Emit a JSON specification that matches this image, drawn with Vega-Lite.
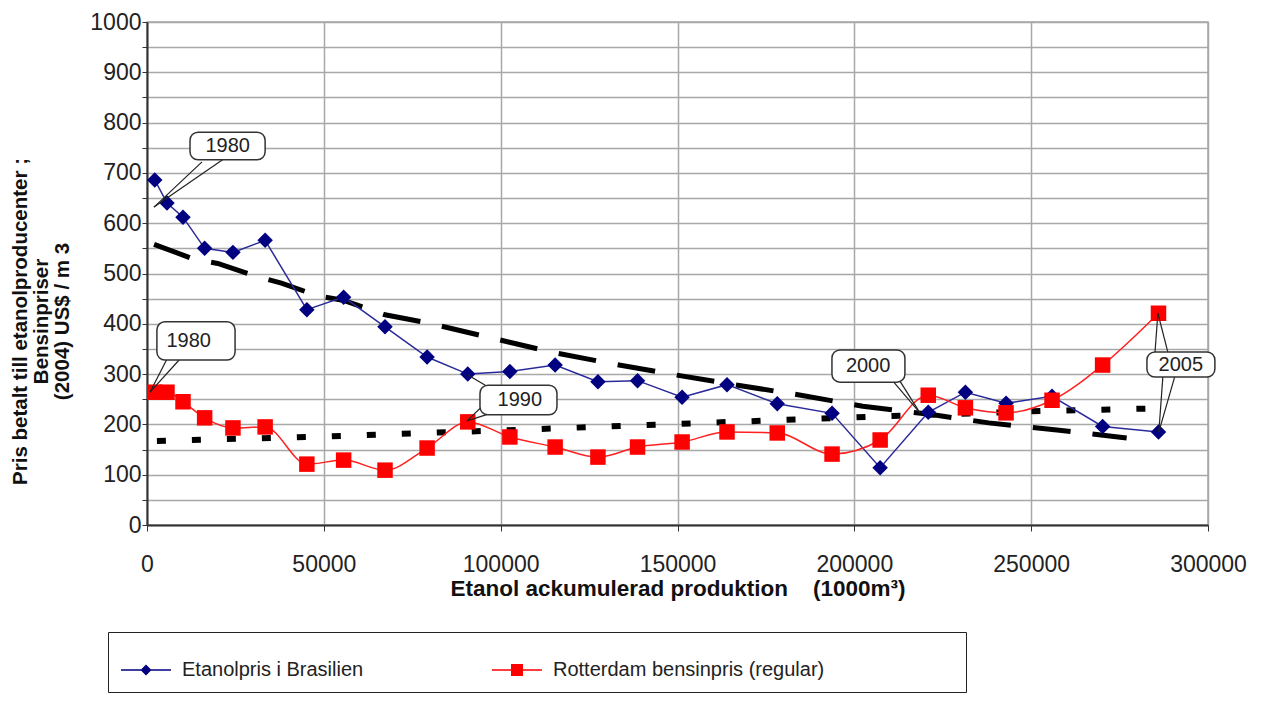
{
  "$schema": "https://vega.github.io/schema/vega-lite/v6.json",
  "width": 1061,
  "height": 503,
  "autosize": {"type": "none"},
  "padding": {"left": 147, "top": 22, "right": 62, "bottom": 177},
  "background": "white",
  "config": {
    "view": {"stroke": "#a8a8a8", "strokeWidth": 1.5},
    "font": "Liberation Sans",
    "axis": {"labelFont": "Liberation Sans", "titleFont": "Liberation Sans"},
    "legend": {"labelFont": "Liberation Sans", "titleFont": "Liberation Sans"}
  },
  "datasets": {
    "series": [
      {"series": "Etanolpris i Brasilien", "x": 2200, "y": 686},
      {"series": "Etanolpris i Brasilien", "x": 5650, "y": 640},
      {"series": "Etanolpris i Brasilien", "x": 10180, "y": 612},
      {"series": "Etanolpris i Brasilien", "x": 16300, "y": 550},
      {"series": "Etanolpris i Brasilien", "x": 24300, "y": 542},
      {"series": "Etanolpris i Brasilien", "x": 33400, "y": 566},
      {"series": "Etanolpris i Brasilien", "x": 45200, "y": 428},
      {"series": "Etanolpris i Brasilien", "x": 55600, "y": 453},
      {"series": "Etanolpris i Brasilien", "x": 67300, "y": 394},
      {"series": "Etanolpris i Brasilien", "x": 79200, "y": 334},
      {"series": "Etanolpris i Brasilien", "x": 90700, "y": 300},
      {"series": "Etanolpris i Brasilien", "x": 102600, "y": 305},
      {"series": "Etanolpris i Brasilien", "x": 115400, "y": 318},
      {"series": "Etanolpris i Brasilien", "x": 127500, "y": 285},
      {"series": "Etanolpris i Brasilien", "x": 138700, "y": 287},
      {"series": "Etanolpris i Brasilien", "x": 151300, "y": 254},
      {"series": "Etanolpris i Brasilien", "x": 164000, "y": 279},
      {"series": "Etanolpris i Brasilien", "x": 178200, "y": 241},
      {"series": "Etanolpris i Brasilien", "x": 193700, "y": 222},
      {"series": "Etanolpris i Brasilien", "x": 207300, "y": 114},
      {"series": "Etanolpris i Brasilien", "x": 220900, "y": 224},
      {"series": "Etanolpris i Brasilien", "x": 231400, "y": 264},
      {"series": "Etanolpris i Brasilien", "x": 242900, "y": 242},
      {"series": "Etanolpris i Brasilien", "x": 255900, "y": 256},
      {"series": "Etanolpris i Brasilien", "x": 270200, "y": 196},
      {"series": "Etanolpris i Brasilien", "x": 286000, "y": 185},
      {"series": "Rotterdam bensinpris (regular)", "x": 2200, "y": 264},
      {"series": "Rotterdam bensinpris (regular)", "x": 5650, "y": 264},
      {"series": "Rotterdam bensinpris (regular)", "x": 10180, "y": 245},
      {"series": "Rotterdam bensinpris (regular)", "x": 16300, "y": 213},
      {"series": "Rotterdam bensinpris (regular)", "x": 24300, "y": 193},
      {"series": "Rotterdam bensinpris (regular)", "x": 33400, "y": 195},
      {"series": "Rotterdam bensinpris (regular)", "x": 45200, "y": 121},
      {"series": "Rotterdam bensinpris (regular)", "x": 55600, "y": 129},
      {"series": "Rotterdam bensinpris (regular)", "x": 67300, "y": 109},
      {"series": "Rotterdam bensinpris (regular)", "x": 79200, "y": 153},
      {"series": "Rotterdam bensinpris (regular)", "x": 90700, "y": 205},
      {"series": "Rotterdam bensinpris (regular)", "x": 102600, "y": 175},
      {"series": "Rotterdam bensinpris (regular)", "x": 115400, "y": 155},
      {"series": "Rotterdam bensinpris (regular)", "x": 127500, "y": 135},
      {"series": "Rotterdam bensinpris (regular)", "x": 138700, "y": 155},
      {"series": "Rotterdam bensinpris (regular)", "x": 151300, "y": 165},
      {"series": "Rotterdam bensinpris (regular)", "x": 164000, "y": 185},
      {"series": "Rotterdam bensinpris (regular)", "x": 178200, "y": 183},
      {"series": "Rotterdam bensinpris (regular)", "x": 193700, "y": 141},
      {"series": "Rotterdam bensinpris (regular)", "x": 207300, "y": 169},
      {"series": "Rotterdam bensinpris (regular)", "x": 220900, "y": 258},
      {"series": "Rotterdam bensinpris (regular)", "x": 231400, "y": 233},
      {"series": "Rotterdam bensinpris (regular)", "x": 242900, "y": 223},
      {"series": "Rotterdam bensinpris (regular)", "x": 255900, "y": 248},
      {"series": "Rotterdam bensinpris (regular)", "x": 270200, "y": 318},
      {"series": "Rotterdam bensinpris (regular)", "x": 286000, "y": 421}
    ],
    "trend1": [
      {"x": 2000, "y": 558}, {"x": 13500, "y": 528}, {"x": 20000, "y": 520},
      {"x": 31000, "y": 494}, {"x": 38000, "y": 481}, {"x": 48500, "y": 455},
      {"x": 55400, "y": 447}, {"x": 67300, "y": 418}, {"x": 79200, "y": 402},
      {"x": 96100, "y": 374}, {"x": 114200, "y": 344}, {"x": 132000, "y": 320},
      {"x": 149800, "y": 298}, {"x": 167000, "y": 278}, {"x": 184900, "y": 258},
      {"x": 202400, "y": 236}, {"x": 221400, "y": 220}, {"x": 238000, "y": 203},
      {"x": 257300, "y": 189}, {"x": 277000, "y": 173}
    ],
    "trend2": [
      {"x": 2800, "y": 167}, {"x": 50000, "y": 176}, {"x": 100000, "y": 188},
      {"x": 150000, "y": 201}, {"x": 200000, "y": 214}, {"x": 250000, "y": 226},
      {"x": 286400, "y": 232}
    ],
    "boxes": [
      {"label": "1980", "x": 12160, "x2": 33400, "y": 781, "y2": 726, "tx": 22800, "ty": 753},
      {"label": "1980", "x": 2800, "x2": 24900, "y": 404, "y2": 328, "tx": 11800, "ty": 366},
      {"label": "1990", "x": 94150, "x2": 115920, "y": 278, "y2": 219, "tx": 105400, "ty": 249},
      {"label": "2000", "x": 193670, "x2": 214300, "y": 348, "y2": 284, "tx": 203900, "ty": 316},
      {"label": "2005", "x": 282730, "x2": 301950, "y": 344, "y2": 294, "tx": 292300, "ty": 318}
    ],
    "pointers": [
      {"x": 15550, "y": 722, "x2": 1980, "y2": 632},
      {"x": 21770, "y": 728, "x2": 1980, "y2": 632},
      {"x": 5650, "y": 330, "x2": 850, "y2": 264},
      {"x": 9330, "y": 330, "x2": 850, "y2": 264},
      {"x": 95560, "y": 241, "x2": 90470, "y2": 207},
      {"x": 96690, "y": 221, "x2": 90470, "y2": 207},
      {"x": 96130, "y": 276, "x2": 90750, "y2": 298},
      {"x": 210900, "y": 286, "x2": 218550, "y2": 223},
      {"x": 212900, "y": 286, "x2": 218550, "y2": 223},
      {"x": 285000, "y": 342, "x2": 285830, "y2": 421},
      {"x": 288700, "y": 342, "x2": 285830, "y2": 421},
      {"x": 287250, "y": 296, "x2": 286100, "y2": 185},
      {"x": 290640, "y": 296, "x2": 286100, "y2": 185}
    ]
  },
  "encoding": {
    "x": {
      "field": "x",
      "type": "quantitative",
      "scale": {"domain": [0, 300000], "nice": false, "zero": true},
      "axis": {
        "values": [0, 50000, 100000, 150000, 200000, 250000, 300000],
        "format": "d",
        "labelFlush": false,
        "labelFontSize": 23,
        "labelColor": "#222",
        "labelPadding": 22,
        "tickSize": 6,
        "tickColor": "#333",
        "domainColor": "#333",
        "domainWidth": 2,
        "gridColor": "#a8a8a8",
        "gridWidth": 1.5,
        "title": "Etanol ackumulerad produktion\u00a0\u00a0\u00a0\u00a0(1000m³)",
        "titleFontSize": 22.5,
        "titleFontWeight": "bold",
        "titleColor": "#111",
        "titleBaseline": "middle",
        "titleY": 63
      }
    },
    "y": {
      "field": "y",
      "type": "quantitative",
      "scale": {"domain": [0, 1000], "nice": false},
      "axis": {
        "values": [0, 50, 100, 150, 200, 250, 300, 350, 400, 450, 500, 550, 600, 650, 700, 750, 800, 850, 900, 950, 1000],
        "format": "d",
        "labelExpr": "datum.value % 100 == 0 ? datum.label : ''",
        "labelFlush": false,
        "labelFontSize": 23,
        "labelColor": "#222",
        "labelPadding": 1,
        "tickSize": 5,
        "tickColor": "#333",
        "domainColor": "#333",
        "domainWidth": 2,
        "gridColor": "#a8a8a8",
        "gridWidth": 1.5,
        "title": ["Pris betalt till etanolproducenter ;", "Bensinpriser", "(2004) US$ / m 3"],
        "titleFontSize": 20.5,
        "titleLineHeight": 21,
        "titleFontWeight": "bold",
        "titleColor": "#111",
        "titleAngle": -90,
        "titleAlign": "center",
        "titleBaseline": "middle",
        "titleX": -127,
        "titleY": 299
      }
    }
  },
  "resolve": {"scale": {"color": "independent", "shape": "independent"}},
  "layer": [
    {
      "data": {"name": "trend1"},
      "mark": {"type": "line", "color": "#000", "strokeWidth": 5, "strokeDash": [38, 22]}
    },
    {
      "data": {"name": "trend2"},
      "mark": {"type": "line", "color": "#000", "strokeWidth": 6, "strokeDash": [9, 26]}
    },
    {
      "data": {"name": "series"},
      "transform": [{"filter": "datum.series == 'Etanolpris i Brasilien'"}],
      "mark": {"type": "line", "color": "#2a2a9a", "strokeWidth": 1.5}
    },
    {
      "data": {"name": "series"},
      "transform": [{"filter": "datum.series == 'Rotterdam bensinpris (regular)'"}],
      "mark": {"type": "line", "color": "#ff2020", "strokeWidth": 1.5, "interpolate": "monotone"}
    },
    {
      "data": {"name": "series"},
      "mark": {"type": "point", "filled": true, "opacity": 1, "size": 240},
      "encoding": {
        "color": {
          "field": "series",
          "type": "nominal",
          "scale": {"domain": ["Etanolpris i Brasilien", "Rotterdam bensinpris (regular)"], "range": ["#000080", "#ff0000"]},
          "legend": null
        },
        "shape": {
          "field": "series",
          "type": "nominal",
          "scale": {"domain": ["Etanolpris i Brasilien", "Rotterdam bensinpris (regular)"], "range": ["diamond", "square"]},
          "legend": null
        }
      }
    },
    {
      "data": {"name": "series"},
      "transform": [{"filter": "false"}],
      "mark": {"type": "point", "filled": true, "opacity": 1, "size": 2500},
      "encoding": {
        "color": {
          "field": "series",
          "type": "nominal",
          "scale": {"domain": ["Etanolpris i Brasilien", "Rotterdam bensinpris (regular)"], "range": ["#000080", "#ff0000"]},
          "legend": {
            "orient": "none",
            "legendX": -39,
            "legendY": 610,
            "direction": "horizontal",
            "title": " ",
            "titleOrient": "right",
            "titlePadding": 130,
            "strokeColor": "#222",
            "fillColor": "white",
            "padding": 12,
            "columnPadding": 127,
            "labelFontSize": 20,
            "labelColor": "#222",
            "labelOffset": 10,
            "labelLimit": 500,
            "symbolSize": 2500
          }
        },
        "shape": {
          "field": "series",
          "type": "nominal",
          "scale": {
            "domain": ["Etanolpris i Brasilien", "Rotterdam bensinpris (regular)"],
            "range": [
              "M-1,-0.03H1V0.03H-1ZM0,-0.22L0.22,0L0,0.22L-0.22,0Z",
              "M-1,-0.03H1V0.03H-1ZM-0.24,-0.24H0.24V0.24H-0.24Z"
            ]
          },
          "legend": {
            "orient": "none",
            "legendX": -39,
            "legendY": 610,
            "direction": "horizontal",
            "title": " ",
            "titleOrient": "right",
            "titlePadding": 130,
            "strokeColor": "#222",
            "fillColor": "white",
            "padding": 12,
            "columnPadding": 127,
            "labelFontSize": 20,
            "labelColor": "#222",
            "labelOffset": 10,
            "labelLimit": 500,
            "symbolSize": 2500
          }
        }
      }
    },
    {
      "data": {"name": "pointers"},
      "mark": {"type": "rule", "color": "#222", "strokeWidth": 1.2},
      "encoding": {"x2": {"field": "x2"}, "y2": {"field": "y2"}}
    },
    {
      "data": {"name": "boxes"},
      "mark": {"type": "rect", "fill": "white", "stroke": "#333", "strokeWidth": 1.5, "cornerRadius": 8},
      "encoding": {"x2": {"field": "x2"}, "y2": {"field": "y2"}}
    },
    {
      "data": {"name": "boxes"},
      "mark": {"type": "text", "fontSize": 20, "color": "#222", "align": "center", "baseline": "middle"},
      "encoding": {
        "x": {"field": "tx", "type": "quantitative"},
        "y": {"field": "ty", "type": "quantitative"},
        "text": {"field": "label"}
      }
    }
  ]
}
